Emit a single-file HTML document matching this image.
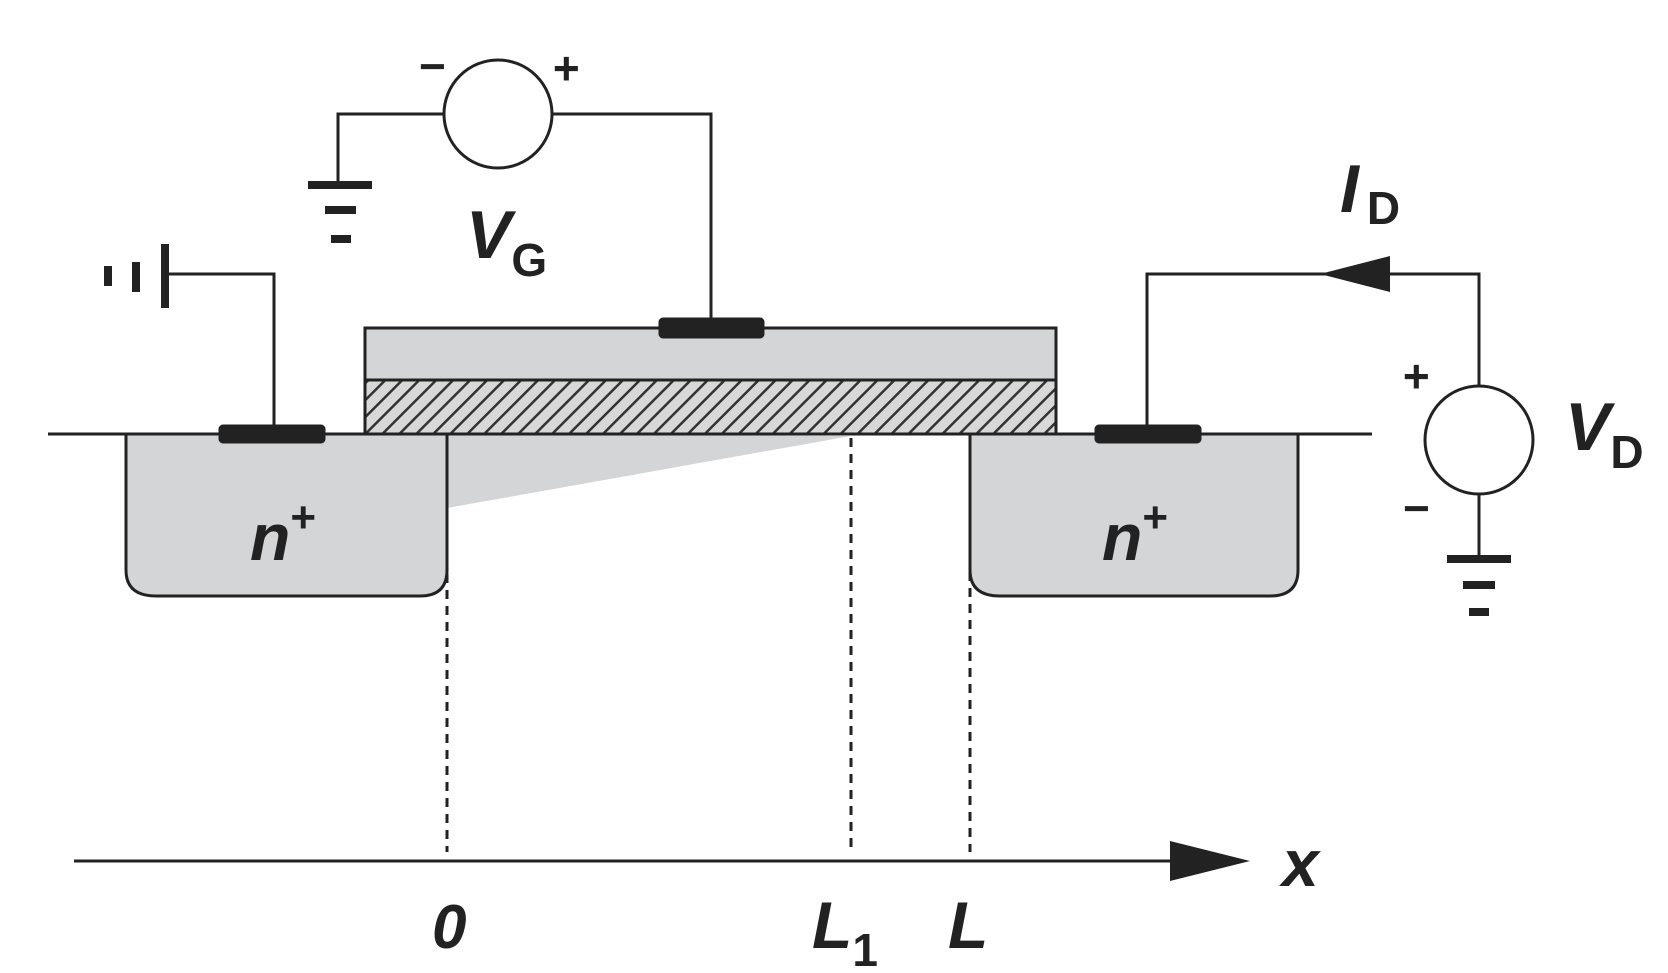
<!DOCTYPE html>
<html><head><meta charset="utf-8"><style>
html,body{margin:0;padding:0;background:#fff;}
svg{display:block;}
text{font-family:"Liberation Sans",sans-serif;font-weight:bold;font-style:italic;fill:#222;}
</style></head><body>
<svg width="1668" height="973" viewBox="0 0 1668 973">
<defs>
<pattern id="hatch" patternUnits="userSpaceOnUse" width="12" height="12" patternTransform="rotate(45)">
<rect width="12" height="12" fill="#d8d8d8"/>
<line x1="0" y1="0" x2="0" y2="12" stroke="#333" stroke-width="5"/>
</pattern>
</defs>
<g stroke="#222" stroke-width="3" fill="none">
<!-- channel wedge -->
<polygon points="447,434 851,436 447,508" fill="#d4d5d7" stroke="none"/>
<!-- n+ regions -->
<path d="M126,434 L126,570 Q126,596 156,596 L420,596 Q447,596 447,570 L447,434" fill="#d4d5d7"/>
<path d="M970,434 L970,570 Q970,596 1000,596 L1270,596 Q1298,596 1298,570 L1298,434" fill="#d4d5d7"/>
<!-- gate -->
<rect x="365" y="328" width="691" height="52" fill="#d4d5d7"/>
<rect x="365" y="380" width="691" height="54" fill="url(#hatch)"/>
<!-- substrate line -->
<line x1="48" y1="434" x2="1372" y2="434"/>
<!-- contacts -->
<rect x="220" y="426" width="104" height="16" fill="#222" rx="3"/>
<rect x="1096" y="426" width="104" height="16" fill="#222" rx="3"/>
<rect x="660" y="319" width="103" height="18" fill="#222" rx="3"/>
<!-- dashed lines -->
<line x1="447" y1="510" x2="447" y2="852" stroke-dasharray="9,7"/>
<line x1="851" y1="438" x2="851" y2="852" stroke-dasharray="9,7"/>
<line x1="970" y1="540" x2="970" y2="852" stroke-dasharray="9,7"/>
<!-- x axis -->
<line x1="74" y1="861" x2="1175" y2="861"/>
<polygon points="1170,841 1250,861 1170,881" fill="#222" stroke="none"/>
<!-- VG circuit -->
<polyline points="444,114 338,114 338,183"/>
<polyline points="552,114 711,114 711,320"/>
<ellipse cx="498" cy="114" rx="54" ry="54" fill="#fff"/>
<line x1="308" y1="185" x2="372" y2="185" stroke-width="8"/>
<line x1="325" y1="210" x2="356" y2="210" stroke-width="8"/>
<line x1="331" y1="239" x2="351" y2="239" stroke-width="8"/>
<!-- substrate ground left -->
<polyline points="274,428 274,274 165,274"/>
<line x1="165" y1="244" x2="165" y2="308" stroke-width="8"/>
<line x1="136" y1="262" x2="136" y2="292" stroke-width="8"/>
<line x1="108" y1="266" x2="108" y2="286" stroke-width="8"/>
<!-- VD circuit -->
<polyline points="1147,428 1147,274 1479,274 1479,386"/>
<polygon points="1320,274 1390,256 1390,292" fill="#222" stroke="none"/>
<ellipse cx="1479" cy="440" rx="54" ry="54" fill="#fff"/>
<line x1="1479" y1="494" x2="1479" y2="557"/>
<line x1="1447" y1="559" x2="1511" y2="559" stroke-width="8"/>
<line x1="1463" y1="585" x2="1495" y2="585" stroke-width="8"/>
<line x1="1469" y1="612" x2="1489" y2="612" stroke-width="8"/>
</g>
<!-- labels -->
<text x="418" y="82" font-size="46" font-style="normal">−</text>
<text x="552" y="84" font-size="46" font-style="normal">+</text>
<text x="466" y="258" font-size="68">V<tspan font-size="46" font-style="normal" dy="18">G</tspan></text>
<text x="1340" y="212" font-size="68">I<tspan font-size="46" font-style="normal" dx="8" dy="12">D</tspan></text>
<text x="1402" y="392" font-size="46" font-style="normal">+</text>
<text x="1402" y="524" font-size="46" font-style="normal">−</text>
<text x="1565" y="450" font-size="68">V<tspan font-size="46" font-style="normal" dy="18">D</tspan></text>
<text x="250" y="560" font-size="66">n<tspan font-size="44" font-style="normal" dy="-28">+</tspan></text>
<text x="1102" y="560" font-size="66">n<tspan font-size="44" font-style="normal" dy="-28">+</tspan></text>
<text x="1282" y="886" font-size="66">x</text>
<text x="432" y="948" font-size="62" font-style="normal">0</text>
<text x="812" y="948" font-size="66">L<tspan font-size="46" font-style="normal" dy="18">1</tspan></text>
<text x="948" y="948" font-size="66">L</text>
</svg>
</body></html>
